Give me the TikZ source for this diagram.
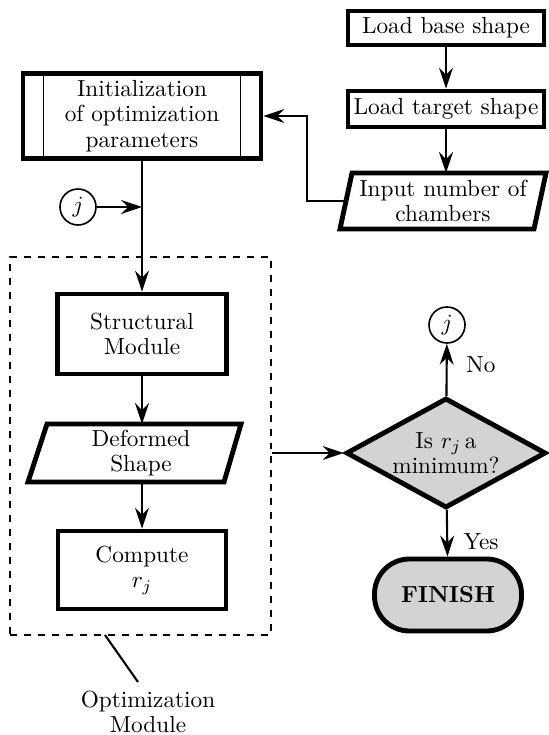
\documentclass[tikz,border=0pt]{standalone}
\usetikzlibrary{arrows.meta,shapes.geometric,calc}
\definecolor{decgray}{RGB}{209,211,212}
\def\u{0.43pt}
\begin{document}
\begin{tikzpicture}[x=\u,y=-\u,
  every node/.style={font=\fontsize{10}{11}\selectfont, align=center, inner sep=0pt},
  box/.style={draw, line width=2.1pt, rectangle},
  conn/.style={line width=0.9pt},
  arr/.style={conn, -{Stealth[length=9pt,width=6pt,inset=3pt]}},
  conncirc/.style={draw, circle, line width=0.7pt, minimum size={36*\u}},
  para/.style={line width=2.1pt, line join=miter},
]
\useasboundingbox (0,0) rectangle (548,735);

% right column
\node[box, minimum width={196*\u}, minimum height={34*\u}] (base) at (446,28) {Load base shape};
\node[box, minimum width={196*\u}, minimum height={36*\u}] (target) at (446,109) {Load target shape};
\node (inp) at (443,201) {Input number of\\chambers};
\draw[para] ([shift={(-91,-28)}]inp.center) -- ([shift={(103,-28)}]inp.center)
  -- ([shift={(91,28)}]inp.center) -- ([shift={(-103,28)}]inp.center) -- cycle;
\coordinate (inpw) at ([shift={(-97,0)}]inp.center);
\coordinate (inpn) at ([shift={(3,-28)}]inp.center);

% init
\node[box, minimum width={238*\u}, minimum height={85*\u}] (init) at (142,116) {Initialization\\of optimization\\parameters};
\draw[line width=0.5pt] ([xshift={23*\u}]init.north west) -- ([xshift={23*\u}]init.south west);
\draw[line width=0.5pt] ([xshift={-23*\u}]init.north east) -- ([xshift={-23*\u}]init.south east);

\node[conncirc] (j1) at (78,207) {$j$};

% optimization module
\node[draw, dashed, line width=0.5pt, minimum width={261*\u}, minimum height={378*\u}] (opt) at (140.5,446) {};
\node[box, minimum width={169*\u}, minimum height={80*\u}] (struct) at (142,334) {Structural\\Module};
\node (def) at (141,453) {Deformed\\Shape};
\draw[para] ([shift={(-94,-29)}]def.center) -- ([shift={(100,-29)}]def.center)
  -- ([shift={(83,29)}]def.center) -- ([shift={(-113,29)}]def.center) -- cycle;
\coordinate (defn) at ([shift={(1,-29)}]def.center);
\coordinate (defs) at ([shift={(1,29)}]def.center);
\node[box, minimum width={168*\u}, minimum height={78*\u}] (comp) at (142,570) {Compute\\$r_j$};

% decision
\node[draw, diamond, line width=2.1pt, fill=decgray, aspect=1.8, minimum width={200*\u}, minimum height={110*\u}] (dec) at (446,453) {Is $r_j$\,a\\minimum?};
\node[conncirc] (j2) at (447,325) {$j$};
\node[draw, line width=2.1pt, fill=decgray, rounded corners=15pt, minimum width={147*\u}, minimum height={72*\u}] (fin) at (448,595) {\bfseries FINISH};
\node (no) at (481,365) {No};
\node (yes) at (481,542) {Yes};

\node (optlab) at (148,712) {Optimization\\Module};
\coordinate (optl1) at (105,635);
\coordinate (optl2) at (138,682);

% connectors
\draw[arr] (base) -- (target);
\draw[arr] (target) -- (target.south |- inpn);
\coordinate (turn) at (307,116);
\draw[arr] (inpw) -| (turn) -- (init.east);
\draw[arr] (init) -- (struct);
\draw[arr] (j1) -- (j1 -| init.south);
\draw[arr] (struct) -- (struct.south |- defn);
\draw[arr] (struct.south |- defs) -- (comp);
\draw[arr] (opt.east |- dec.west) -- (dec.west);
\draw[arr] (dec) -- (j2);
\draw[arr] (dec) -- (fin);
\draw[conn] (optl1) -- (optl2);
\end{tikzpicture}
\end{document}
